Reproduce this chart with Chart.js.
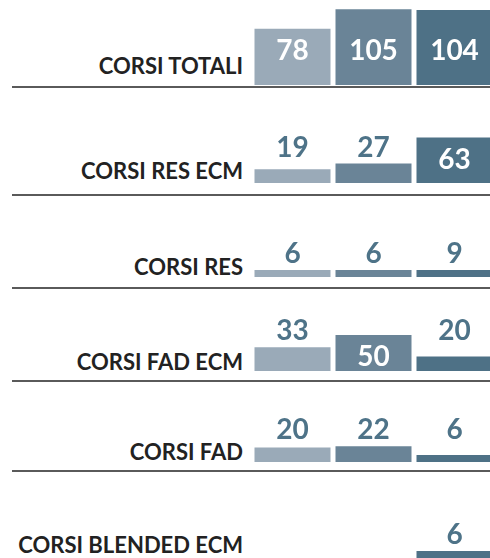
<!DOCTYPE html>
<html>
<head>
<meta charset="utf-8">
<script src="https://cdn.jsdelivr.net/npm/chart.js@4.4.0/dist/chart.umd.min.js"></script>
<style>
  html, body { margin: 0; padding: 0; background: #fff; }
  body { width: 490px; height: 558px; position: relative; overflow: hidden; }
  .row-label {
    position: absolute; right: 247px; white-space: nowrap;
    font: 700 22px Lato, sans-serif; color: #222; line-height: 1;
  }
  .sep { position: absolute; left: 12px; width: 478px; height: 2px; background: #5a5a5a; }
  canvas { position: absolute; left: 252px; }
</style>
</head>
<body>
<script>
// righe del grafico
const categories = ['CORSI TOTALI', 'CORSI RES ECM', 'CORSI RES', 'CORSI FAD ECM', 'CORSI FAD', 'CORSI BLENDED ECM'];
// tre colonne per riga
const series1 = [78, 19, 6, 33, 20, null];
const series2 = [105, 27, 6, 50, 22, null];
const series3 = [104, 63, 9, 20, 6, 6];
const columns = ['Serie 1', 'Serie 2', 'Serie 3'];

const colors = ['#9aaab8', '#6a8497', '#4e7186'];
const labelColor = '#4e7388';

// posizione della linea di base di ogni riga e dei separatori (px)
const baselines = [85, 183, 277, 371, 462, 558];
const textBaselines = [74, 179, 275, 370, 460, 553];
const separators = [87, 195, 288, 381, 471];
const rowHeight = 88;

// etichette valore: dentro la barra (bianco) se alta, altrimenti sopra
const valueLabels = {
    id: 'valueLabels',
    afterDatasetsDraw(chart) {
        const c = chart.ctx;
        const meta = chart.getDatasetMeta(0);
        const values = chart.data.datasets[0].data;
        c.save();
        c.font = '700 28px Lato, sans-serif';
        c.textAlign = 'center';
        c.textBaseline = 'alphabetic';
        let outsideTop = Infinity, insideTop = -Infinity;
        meta.data.forEach((bar, i) => {
            if (values[i] == null) return;
            if (bar.base - bar.y < 30) outsideTop = Math.min(outsideTop, bar.y);
            else insideTop = Math.max(insideTop, bar.y);
        });
        meta.data.forEach((bar, i) => {
            if (values[i] == null) return;
            if (bar.base - bar.y >= 30) {
                c.fillStyle = '#fff';
                c.fillText(values[i], bar.x, insideTop + 31);
            } else {
                c.fillStyle = labelColor;
                c.fillText(values[i], bar.x, outsideTop - 7);
            }
        });
        c.restore();
    }
};

categories.forEach((cat, i) => {
    const lab = document.createElement('div');
    lab.className = 'row-label';
    lab.textContent = cat;
    lab.style.top = (textBaselines[i] - 19.5) + 'px';
    document.body.appendChild(lab);

    const cv = document.createElement('canvas');
    cv.width = 243;
    cv.height = rowHeight;
    cv.style.top = (baselines[i] - rowHeight) + 'px';
    document.body.appendChild(cv);

    new Chart(cv.getContext('2d'), {
        type: 'bar',
        data: {
            labels: columns,
            datasets: [{
                data: [series1[i], series2[i], series3[i]],
                backgroundColor: colors,
                borderWidth: 0,
                categoryPercentage: 1,
                barPercentage: 76 / 81,
                minBarLength: 7,
            }],
        },
        options: {
            responsive: false,
            animation: false,
            devicePixelRatio: 1,
            layout: {padding: 0},
            plugins: {legend: {display: false}, tooltip: {enabled: false}},
            scales: {
                x: {display: false},
                y: {display: false, min: 0, max: 122},
            },
        },
        plugins: [valueLabels],
    });
});

separators.forEach(y => {
    const s = document.createElement('div');
    s.className = 'sep';
    s.style.top = (y - 1) + 'px';
    document.body.appendChild(s);
});
</script>
</body>
</html>
